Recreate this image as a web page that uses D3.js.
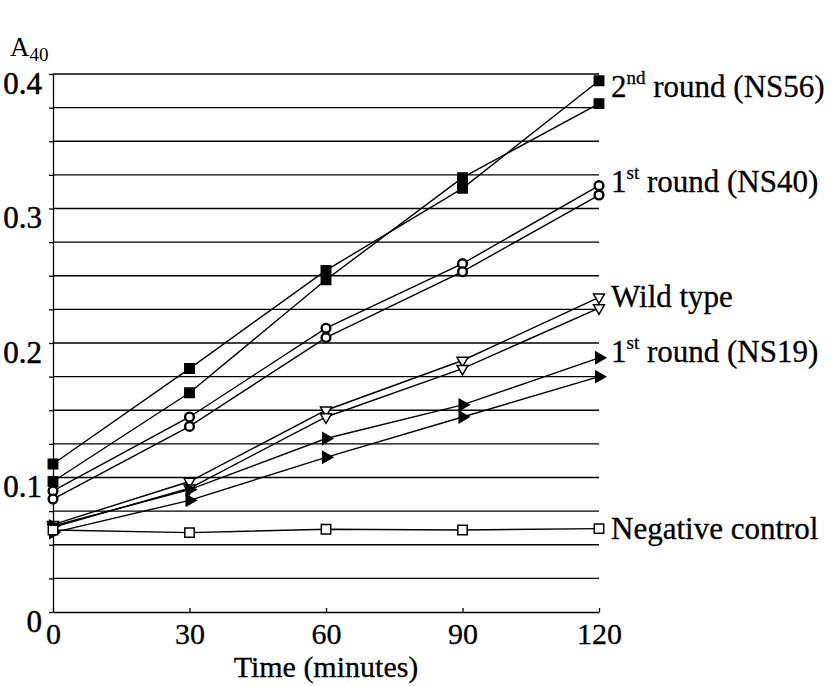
<!DOCTYPE html>
<html>
<head>
<meta charset="utf-8">
<script src="https://cdn.jsdelivr.net/npm/d3@7"></script>
<style>
  body { margin: 0; background: #fff; }
  svg text { font-family: "Liberation Serif", "Times New Roman", serif; fill: #000; }
</style>
</head>
<body>
<svg id="chart" width="834" height="686"></svg>
<script>
// time points (minutes) and absorbance readings, two replicates per clone
const times = [0, 30, 60, 90, 120];
const xTicks = [0, 30, 60, 90, 120];
const yTicks = [0, 0.1, 0.2, 0.3, 0.4];
const yTickLabels = ['0', '0.1', '0.2', '0.3', '0.4'];

const ns56a = [0.110, 0.181, 0.254, 0.315, 0.395];
const ns56b = [0.097, 0.163, 0.247, 0.323, 0.378];
const ns40a = [0.090, 0.145, 0.211, 0.259, 0.317];
const ns40b = [0.084, 0.138, 0.204, 0.253, 0.310];
const wildA = [0.065, 0.097, 0.150, 0.187, 0.234];
const wildB = [0.063, 0.092, 0.145, 0.181, 0.226];
const ns19a = [0.064, 0.091, 0.129, 0.154, 0.189];
const ns19b = [0.059, 0.083, 0.115, 0.145, 0.175];
const negCtrl = [0.061, 0.059, 0.0615, 0.061, 0.062];

const seriesLabels = [
  { main: '2', sup: 'nd', rest: ' round (NS56)' },
  { main: '1', sup: 'st', rest: ' round (NS40)' },
  { main: 'Wild type', sup: '', rest: '' },
  { main: '1', sup: 'st', rest: ' round (NS19)' },
  { main: 'Negative control', sup: '', rest: '' }
];

const series = [
  { values: ns56a, marker: 'square', filled: true },
  { values: ns56b, marker: 'square', filled: true },
  { values: ns40a, marker: 'circle', filled: false },
  { values: ns40b, marker: 'circle', filled: false },
  { values: wildA, marker: 'down', filled: false },
  { values: wildB, marker: 'down', filled: false },
  { values: ns19a, marker: 'right', filled: true },
  { values: ns19b, marker: 'right', filled: true },
  { values: negCtrl, marker: 'square', filled: false }
];

const svg = d3.select('#chart');
const plot = { left: 53, right: 599, top: 74, bottom: 612 };

const x = d3.scaleLinear().domain([0, 120]).range([plot.left, plot.right]);
const y = d3.scaleLinear().domain([0, 0.4]).range([plot.bottom, plot.top]);

// horizontal rules every 0.025
const gridValues = d3.range(1, 17).map(i => i * 0.025);

svg.append('g')
  .selectAll('line')
  .data(gridValues)
  .enter()
  .append('line')
  .attr('x1', plot.left)
  .attr('x2', plot.right)
  .attr('y1', d => y(d))
  .attr('y2', d => y(d))
  .attr('stroke', '#000')
  .attr('stroke-width', 1.3);

// y axis: short outward ticks, labels hang just under their tick
const yAxis = d3.axisLeft(y)
  .tickValues([0].concat(gridValues))
  .tickSizeInner(4)
  .tickSizeOuter(0)
  .tickPadding(7)
  .tickFormat(d => {
    const i = yTicks.findIndex(t => Math.abs(t - d) < 1e-6);
    return i >= 0 ? yTickLabels[i] : '';
  });

const gy = svg.append('g').attr('transform', `translate(${plot.left},0)`).call(yAxis);
gy.selectAll('path, line').attr('stroke', '#000').attr('stroke-width', 1.3);
gy.selectAll('text')
  .attr('dy', '0.62em')
  .style('font-size', '31px')
  .style('font-family', '"Liberation Serif", "Times New Roman", serif')
  .style('stroke', '#000')
  .style('stroke-width', 0.5);

const xAxis = d3.axisBottom(x)
  .tickValues(xTicks)
  .tickSizeInner(-4)
  .tickSizeOuter(0)
  .tickPadding(11)
  .tickFormat(d3.format('d'));

const gx = svg.append('g').attr('transform', `translate(0,${plot.bottom})`).call(xAxis);
gx.selectAll('path, line').attr('stroke', '#000').attr('stroke-width', 1.3);
gx.selectAll('text')
  .attr('dy', '0.71em')
  .style('font-size', '30px')
  .style('font-family', '"Liberation Serif", "Times New Roman", serif')
  .style('stroke', '#000')
  .style('stroke-width', 0.3);

svg.append('text')
  .attr('x', (plot.left + plot.right) / 2)
  .attr('y', 677)
  .attr('text-anchor', 'middle')
  .style('font-size', '30px')
  .style('stroke', '#000')
  .style('stroke-width', 0.3)
  .text('Time (minutes)');

// A40 axis caption
const cap = svg.append('text').attr('x', 10).attr('y', 56).style('font-size', '27px');
cap.append('tspan').text('A');
cap.append('tspan').attr('dy', 5).style('font-size', '19px').text('40');

// lines
const line = d3.line()
  .x((d, i) => x(times[i]))
  .y(d => y(d));

svg.append('g')
  .selectAll('path')
  .data(series)
  .enter()
  .append('path')
  .attr('d', d => line(d.values))
  .attr('fill', 'none')
  .attr('stroke', '#000')
  .attr('stroke-width', 1.4);

// markers
const symbolFor = {
  square: { type: d3.symbolSquare, size: 88, rotate: 0 },
  circle: { type: d3.symbolCircle, size: 60, rotate: 0 },
  down: { type: d3.symbolTriangle, size: 52, rotate: 180 },
  right: { type: d3.symbolTriangle, size: 56, rotate: 90 }
};

series.forEach(s => {
  const sym = symbolFor[s.marker];
  svg.append('g')
    .selectAll('path')
    .data(s.values)
    .enter()
    .append('path')
    .attr('d', d3.symbol().type(sym.type).size(sym.size))
    .attr('transform', (d, i) => `translate(${x(times[i])},${y(d)}) rotate(${sym.rotate})`)
    .attr('fill', s.filled ? '#000' : '#fff')
    .attr('stroke', '#000')
    .attr('stroke-width', s.marker === 'circle' ? 2.4 : 1.5);
});

// series labels to the right of the plot
const labelBaselines = [97, 192, 307, 362, 539];

seriesLabels.forEach((lab, i) => {
  const t = svg.append('text')
    .attr('x', 611)
    .attr('y', labelBaselines[i])
    .style('font-size', '31px')
    .style('stroke', '#000')
    .style('stroke-width', 0.3);
  t.append('tspan').text(lab.main);
  if (lab.sup) {
    t.append('tspan').attr('dy', -13).style('font-size', '19px').text(lab.sup);
    t.append('tspan').attr('dy', 13).text(lab.rest);
  }
});
</script>
</body>
</html>
